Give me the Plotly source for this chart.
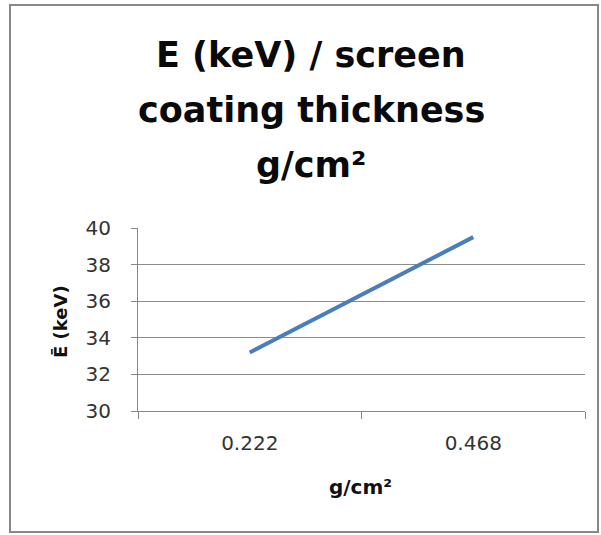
import plotly.graph_objects as go

categories = ["0.222", "0.468"]
energy_kev = [33.2, 39.5]
y_ticks = [30, 32, 34, 36, 38, 40]
title_lines = ["E (keV) / screen", "coating thickness", "g/cm²"]

W, H = 601, 535
L, R, T, B = 138, 585, 228, 411

def px(x):
    return (x - L) / (R - L)

def py(y):
    return (B - y) / (B - T)

fig = go.Figure()
fig.add_trace(go.Scatter(
    x=categories, y=energy_kev, mode="lines",
    line=dict(color="#4a7ebb", width=4), showlegend=False, hoverinfo="skip"))

font_family = "'DejaVu Sans', sans-serif"

title_y = [55, 110, 165]
annotations = [
    dict(text=f"<b>{t}</b>", xref="paper", yref="paper", x=px(311), y=py(yc),
         showarrow=False, xanchor="center", yanchor="middle",
         font=dict(size=35, color="#0a0a0a", family=font_family))
    for t, yc in zip(title_lines, title_y)
]
annotations += [
    dict(text="<b>Ē (keV)</b>", xref="paper", yref="paper",
         x=px(60), y=py(322), textangle=-90, showarrow=False,
         xanchor="center", yanchor="middle",
         font=dict(size=18, color="#111", family=font_family)),
    dict(text="<b>g/cm²</b>", xref="paper", yref="paper",
         x=px(360), y=py(487), showarrow=False,
         xanchor="center", yanchor="middle",
         font=dict(size=20, color="#111", family=font_family)),
]

fig.update_layout(
    width=W, height=H,
    margin=dict(l=L, r=W - R, t=T, b=H - B, pad=0),
    paper_bgcolor="white", plot_bgcolor="white",
    font=dict(family=font_family, color="#222"),
    xaxis=dict(type="category", range=[-0.5, 1.5], tickson="boundaries",
               ticks="outside", ticklen=7, tickcolor="#888", showline=True,
               linecolor="#888", linewidth=1, showgrid=False, zeroline=False,
               ticklabelstandoff=14,
               tickfont=dict(size=20, color="#333")),
    yaxis=dict(range=[30, 40], tickvals=y_ticks, ticks="outside", ticklen=6,
               tickcolor="#888", showline=True, linecolor="#888", linewidth=1,
               showgrid=True, gridcolor="#8c8c8c", gridwidth=1, zeroline=False,
               ticklabelstandoff=16,
               tickfont=dict(size=20, color="#333")),
    annotations=annotations,
    shapes=[dict(type="rect", xref="paper", yref="paper",
                 x0=px(10), x1=px(598), y0=py(532), y1=py(5),
                 line=dict(color="#888", width=2), layer="below")],
)

fig.write_html("out.html")
